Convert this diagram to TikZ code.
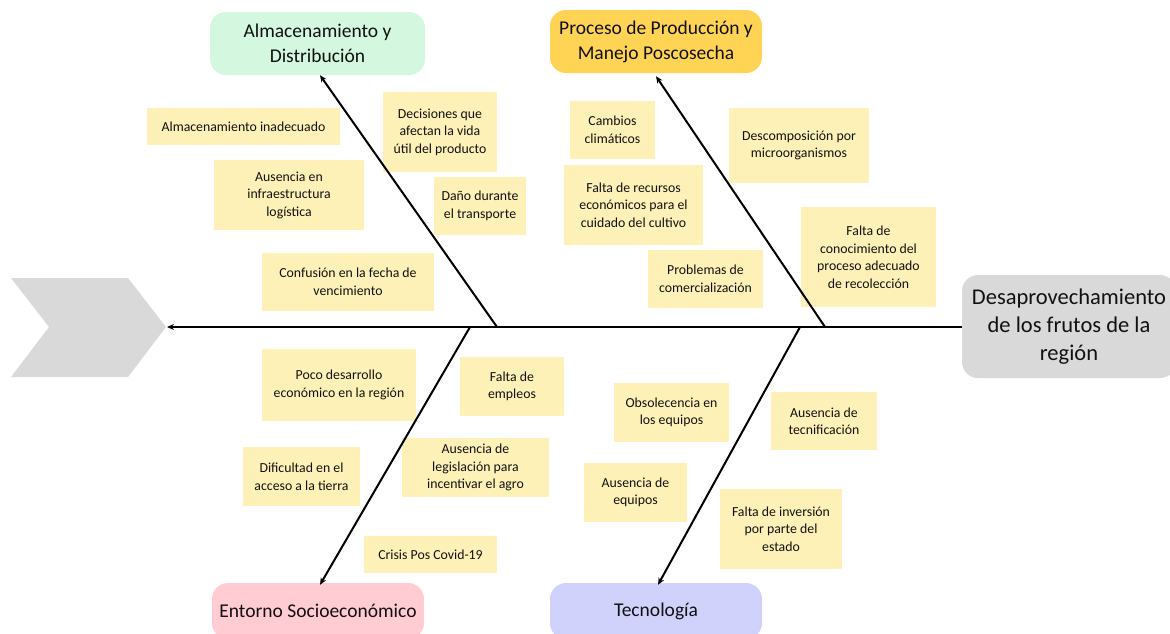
\documentclass[tikz,border=0pt]{standalone}
\usepackage{fontspec}
\setmainfont{Carlito}
\usetikzlibrary{arrows.meta}
\definecolor{notecol}{HTML}{FDF1B8}
\definecolor{catgreen}{HTML}{D3F8DF}
\definecolor{catyellow}{HTML}{FFD455}
\definecolor{catgray}{HTML}{D9D9D9}
\definecolor{catpink}{HTML}{FFCCD3}
\definecolor{catblue}{HTML}{D0D2FB}
\definecolor{txt}{HTML}{111111}
\tikzset{
  note/.style={fill=notecol, inner sep=0pt, align=center, text=txt,
    font=\fontsize{13.8}{17.5}\selectfont},
  cat/.style={fill=#1, rounded corners=16pt, inner sep=0pt, align=center, text=txt,
    font=\fontsize{19.5}{25}\selectfont},
  bone/.style={line width=2pt, -{Stealth[length=7pt,width=6pt]}},
}
\begin{document}
\begin{tikzpicture}[x=1pt,y=-1pt]
\useasboundingbox (0,0) rectangle (1170,633);
\clip (0,0) rectangle (1170,633);
% chevron
\fill[catgray] (11,278) -- (128,278) -- (166,327) -- (128,377) -- (11,377) -- (49,327) -- cycle;
% categories
\node[cat=catgreen, minimum width=215, minimum height=63] (A) at (317.5,43.5) {Almacenamiento y\\Distribución};
\node[cat=catyellow, minimum width=212, minimum height=63] (P) at (656,41.5) {Proceso de Producción y\\Manejo Poscosecha};
\node[cat=catpink, minimum width=212, minimum height=56] (E) at (318,611) {Entorno Socioeconómico};
\node[cat=catblue, minimum width=212, minimum height=56] (T) at (656,611) {Tecnología};
\node[cat=catgray, minimum width=214, minimum height=103, font=\fontsize{22.5}{28}\selectfont] (D) at (1069,326.5) {Desaprovechamiento\\de los frutos de la\\región};
% notes
\node[note, minimum width=193, minimum height=37] (n1) at (243.5,126.5) {Almacenamiento inadecuado};
\node[note, minimum width=150, minimum height=70] (n2) at (289,195) {Ausencia en\\infraestructura\\logística};
\node[note, minimum width=172, minimum height=58] (n3) at (348,282) {Confusión en la fecha de\\vencimiento};
\node[note, minimum width=114, minimum height=80] (n4) at (440,132) {Decisiones que\\afectan la vida\\útil del producto};
\node[note, minimum width=92, minimum height=58] (n5) at (480,206) {Daño durante\\el transporte};
\node[note, minimum width=85, minimum height=58] (n6) at (612.5,130) {Cambios\\climáticos};
\node[note, minimum width=139, minimum height=80] (n7) at (633.5,205) {Falta de recursos\\económicos para el\\cuidado del cultivo};
\node[note, minimum width=115, minimum height=58] (n8) at (705.5,279) {Problemas de\\comercialización};
\node[note, minimum width=140, minimum height=75] (n9) at (799,145.5) {Descomposición por\\microorganismos};
\node[note, minimum width=135, minimum height=100] (n10) at (868.5,257) {Falta de\\conocimiento del\\proceso adecuado\\de recolección};
\node[note, minimum width=154, minimum height=72] (n11) at (339,385) {Poco desarrollo\\económico en la región};
\node[note, minimum width=104, minimum height=59] (n12) at (512,386.5) {Falta de\\empleos};
\node[note, minimum width=117, minimum height=59] (n13) at (301.5,476.5) {Dificultad en el\\acceso a la tierra};
\node[note, minimum width=147, minimum height=59] (n14) at (475.5,467.5) {Ausencia de\\legislación para\\incentivar el agro};
\node[note, minimum width=133, minimum height=37] (n15) at (430.5,554.5) {Crisis Pos Covid-19};
\node[note, minimum width=115, minimum height=59] (n16) at (671.5,412.5) {Obsolecencia en\\los equipos};
\node[note, minimum width=106, minimum height=58] (n17) at (824,421) {Ausencia de\\tecnificación};
\node[note, minimum width=103, minimum height=59] (n18) at (635.5,492.5) {Ausencia de\\equipos};
\node[note, minimum width=122, minimum height=80] (n19) at (781,529) {Falta de inversión\\por parte del\\estado};
% spine and bones
\coordinate (tail) at (167,327);
\coordinate (b1) at (497,327);
\coordinate (b2) at (825,327);
\coordinate (b3) at (470,327);
\coordinate (b4) at (800,327);
\draw[bone] (D.west |- tail) -- (tail);
\draw[bone] (b1) -- ([xshift=2.5]A.south);
\draw[bone] (b2) -- ([yshift=-3]P.south);
\draw[bone] (b3) -- ([xshift=2,yshift=-2]E.north);
\draw[bone] (b4) -- ([xshift=2,yshift=-2]T.north);
\end{tikzpicture}
\end{document}
